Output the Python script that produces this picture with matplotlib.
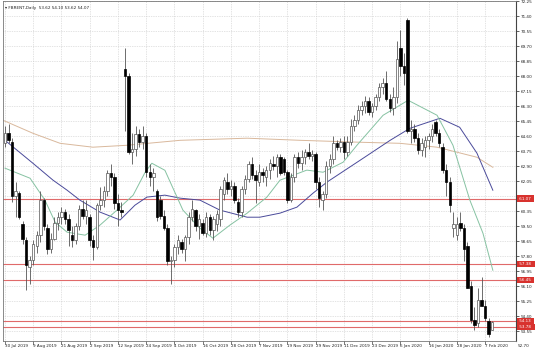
import numpy as np
import matplotlib as mpl
mpl.use('Agg')
import matplotlib.pyplot as plt

### data ###
date_labels = ["30 Jul 2019", "9 Aug 2019", "21 Aug 2019", "2 Sep 2019", "12 Sep 2019", "24 Sep 2019",
               "4 Oct 2019", "16 Oct 2019", "28 Oct 2019", "7 Nov 2019", "19 Nov 2019", "29 Nov 2019",
               "11 Dec 2019", "23 Dec 2019", "6 Jan 2020", "16 Jan 2020", "28 Jan 2020", "7 Feb 2020"]
label_every = 8   # one date label every 8 bars

opens = [64.2, 64.8, 64.3, 61.2, 61.4, 59.6, 58.7, 57.2, 57.6, 58.4,
         59.0, 61.0, 59.4, 58.2, 58.8, 59.7, 60.0, 60.3, 59.9, 59.0,
         58.7, 59.5, 60.5, 60.1, 60.0, 58.7, 58.3, 60.7, 61.0, 61.5,
         62.5, 62.3, 60.8, 60.4, 68.4, 68.0, 63.7, 63.9, 64.7, 64.3,
         64.6, 62.6, 62.3, 61.5, 61.0, 60.1, 59.4, 57.5, 57.6, 58.3,
         58.6, 58.2, 58.9, 60.0, 60.4, 59.5, 59.7, 59.1, 60.0, 59.3,
         59.6, 59.9, 61.3, 62.0, 61.6, 61.8, 60.9, 60.3, 61.6, 62.2,
         63.0, 62.4, 62.0, 62.6, 62.3, 62.7, 63.0, 62.9, 63.4, 63.3,
         62.6, 61.0, 62.3, 63.4, 63.1, 63.4, 63.7, 63.5, 63.6, 62.0,
         61.0, 61.3, 62.9, 63.3, 64.2, 64.0, 64.3, 63.7, 64.3, 65.2,
         65.5, 66.1, 66.3, 66.6, 66.0, 66.3, 66.8, 67.4, 67.6, 66.7,
         66.2, 66.8, 69.6, 68.6, 71.2, 64.9, 65.0, 64.5, 63.8, 64.0,
         64.4, 64.6, 65.4, 64.8, 64.0, 62.7, 62.0, 59.4, 59.0, 59.7,
         59.4, 58.4, 56.1, 54.2, 54.0, 55.3, 55.0, 54.1, 53.62]
highs = [65.2, 65.3, 64.5, 62.0, 61.5, 59.8, 58.9, 57.8, 58.7, 59.2,
         61.5, 61.1, 59.6, 59.1, 60.0, 60.3, 60.6, 60.5, 60.2, 59.5,
         59.7, 60.7, 61.0, 61.0, 60.2, 59.0, 60.8, 61.7, 61.8, 62.7,
         63.0, 62.5, 61.3, 60.9, 69.6, 68.2, 64.8, 65.2, 65.0, 65.2,
         64.8, 63.0, 62.8, 61.6, 61.2, 60.4, 59.6, 57.8, 58.5, 59.0,
         58.8, 59.0, 60.3, 61.0, 60.5, 60.2, 59.9, 60.3, 60.2, 60.1,
         60.4, 61.8, 62.3, 62.5, 62.1, 62.0, 61.1, 61.8, 62.4, 63.2,
         63.4, 62.7, 63.0, 62.8, 62.9, 63.3, 63.5, 63.6, 63.6, 63.4,
         62.7, 62.5, 63.6, 63.7, 63.8, 63.9, 64.2, 63.8, 63.7, 62.3,
         61.5, 63.2, 63.6, 64.6, 64.4, 64.5, 64.6, 64.6, 65.6, 65.8,
         66.4, 66.6, 66.9, 66.8, 66.5, 67.0, 67.6, 67.9, 68.3, 67.0,
         67.4, 70.0, 70.6, 69.3, 71.3, 65.5, 65.3, 64.8, 64.5, 64.6,
         64.8, 65.3, 65.5, 65.0, 64.2, 63.0, 62.3, 60.3, 60.0, 60.3,
         59.6, 58.6, 56.4, 54.9, 56.0, 56.6, 55.3, 54.3, 54.10]
lows = [64.0, 64.2, 60.9, 60.0, 59.9, 58.5, 55.9, 56.2, 57.3, 58.0,
        58.6, 59.3, 57.9, 58.0, 58.7, 59.3, 59.6, 59.6, 58.4, 58.3,
        58.5, 59.3, 59.9, 59.6, 58.4, 57.6, 58.2, 60.4, 60.6, 61.2,
        61.8, 60.5, 59.5, 60.0, 64.9, 63.6, 63.0, 63.5, 64.0, 63.9,
        62.3, 61.8, 61.5, 59.8, 59.9, 59.3, 57.3, 56.2, 57.2, 57.9,
        58.0, 57.5, 58.5, 59.8, 59.2, 58.8, 59.0, 58.9, 59.0, 58.7,
        59.2, 59.5, 61.0, 61.3, 61.2, 60.8, 60.0, 60.0, 61.3, 62.0,
        62.2, 60.8, 61.8, 62.0, 61.8, 62.2, 62.7, 62.3, 62.4, 62.4,
        60.8, 60.9, 62.0, 62.8, 62.7, 63.0, 63.3, 63.2, 61.6, 60.6,
        60.4, 61.1, 62.5, 63.0, 63.8, 63.7, 63.3, 63.5, 64.1, 64.9,
        65.3, 65.8, 65.9, 65.8, 65.7, 66.1, 66.6, 67.0, 66.6, 66.0,
        65.8, 66.5, 68.0, 67.5, 64.8, 64.2, 64.3, 63.6, 63.5, 63.4,
        63.9, 64.3, 64.6, 64.0, 62.5, 61.2, 60.3, 58.9, 58.7, 59.2,
        57.5, 56.0, 54.0, 53.6, 53.8, 55.0, 54.1, 53.2, 53.62]
closes = [64.8, 64.4, 61.2, 61.5, 60.0, 58.8, 57.3, 57.6, 58.5, 59.0,
          61.0, 59.5, 58.2, 58.8, 59.7, 60.0, 60.3, 59.9, 59.3, 58.7,
          59.5, 60.5, 60.1, 60.4, 58.7, 58.3, 60.7, 61.0, 61.5, 62.5,
          62.3, 60.8, 60.4, 60.3, 68.0, 63.7, 63.9, 64.7, 64.3, 64.6,
          62.6, 62.3, 62.5, 60.0, 60.1, 59.4, 57.5, 57.6, 58.3, 58.7,
          58.2, 58.9, 60.0, 60.5, 59.5, 59.9, 59.1, 60.0, 59.3, 59.9,
          60.2, 61.6, 62.1, 61.6, 61.8, 61.0, 60.3, 61.6, 62.2, 63.0,
          62.4, 62.1, 62.6, 62.4, 62.7, 63.1, 62.9, 63.4, 62.5, 62.6,
          61.0, 62.3, 63.4, 63.1, 63.4, 63.7, 63.5, 63.6, 62.0, 61.1,
          61.3, 62.9, 63.3, 64.2, 64.0, 64.3, 63.7, 64.3, 65.2, 65.5,
          66.1, 66.3, 66.6, 66.0, 66.3, 66.8, 67.4, 67.6, 66.7, 66.2,
          66.8, 69.0, 68.6, 68.2, 64.9, 65.0, 64.5, 63.8, 64.2, 64.4,
          64.6, 65.0, 64.8, 64.2, 62.7, 62.0, 60.7, 59.6, 59.6, 59.4,
          58.2, 56.0, 54.2, 53.9, 55.3, 55.0, 54.3, 53.4, 54.07]

# moving averages, read at a few bars
ma_fast_x = [0, 7.1, 11.3, 14.2, 17.6, 22.7, 26.9, 31.7, 36.3, 39.7, 41.6, 45.3, 50.4, 55.2, 58.9,
             63.7, 68.6, 74.2, 77.9, 85.5, 90.1, 95.8, 99.7, 107.1, 114.2, 122.4, 126.9, 131.7, 135.4, 138.2]
ma_fast_y = [62.79, 62.22, 60.98, 59.73, 59.16, 58.99, 59.56, 60.41, 61.26, 62.56, 63.07, 62.67, 60.41, 59.39, 58.82,
             59.56, 60.24, 61.15, 62.11, 62.68, 62.56, 63.13, 64.09, 65.79, 66.64, 65.79, 64.09, 60.97, 59.10, 57.00]
ma_mid_x = [0, 7.9, 13.6, 17.6, 21.2, 26.9, 32.6, 36.8, 40.2, 45.3, 49.6, 55.2, 60.9, 68.6, 72.2,
            77.9, 82.7, 87.3, 91.2, 100.6, 109.1, 114.7, 123.2, 128.8, 133.7, 138.2]
ma_mid_y = [64.37, 63.07, 62.11, 61.54, 60.98, 60.30, 59.85, 60.69, 61.15, 61.26, 61.09, 60.98, 60.41, 60.01, 60.01,
            60.24, 60.58, 61.38, 62.00, 63.24, 64.37, 65.05, 65.62, 65.11, 63.64, 61.54]
ma_slow_x = [-0.6, 7.9, 15.6, 24.9, 34.6, 49.6, 68.6, 83.6, 100.6, 111.9, 122.4, 133.7, 138.2]
ma_slow_y = [65.51, 64.77, 64.20, 63.98, 64.09, 64.37, 64.49, 64.37, 64.26, 64.20, 63.98, 63.41, 62.84]

levels = [61.07, 57.38, 56.45, 54.13, 53.78]    # red horizontal lines

price_ticks = [72.25, 71.40, 70.55, 69.70, 68.85, 68.00, 67.15, 66.30, 65.45, 64.60, 63.75, 62.90,
               62.05, 61.20, 60.35, 59.50, 58.65, 57.80, 56.95, 56.10, 55.25, 54.40, 53.55]
hidden_tick = 61.20     # covered by the 61.07 label
bottom_tick = 52.70

title = "FBRENT,Daily  53.62 54.10 53.62 54.07"

### figure ###
fs = 3.0
fig = plt.figure(figsize=(5.36, 3.58), dpi=100)
ax = fig.add_axes([3/536, 1-341/358, 513/536, 340/358])
ax.set_xlim(-0.57, 144.76)
ax.set_ylim(52.99, 72.27)

n = len(closes)
xs = np.arange(n)

# grid
for k in range(0, n, label_every):
    ax.axvline(k, color='#c8c8c8', lw=0.5, ls=(0, (1, 1.5)), zorder=0)
for p in price_ticks:
    ax.axhline(p, color='#c8c8c8', lw=0.5, ls=(0, (1, 1.5)), zorder=0)

# red levels
for lv in levels:
    ax.axhline(lv, color='#e06a6a', lw=0.8, zorder=1)

# moving averages
ax.plot(ma_slow_x, ma_slow_y, color='#d9b89c', lw=0.7, zorder=2)
ax.plot(ma_mid_x, ma_mid_y, color='#4a4a9a', lw=0.7, zorder=2)
ax.plot(ma_fast_x, ma_fast_y, color='#86c2a2', lw=0.7, zorder=2)

# candles
o = np.array(opens); c = np.array(closes); h = np.array(highs); l = np.array(lows)
up = c >= o
ax.vlines(xs, l, h, color='#555555', lw=0.6, zorder=3)
body_lo = np.minimum(o, c)
body_h = np.maximum(np.abs(c - o), 0.04)
ax.bar(xs[up], body_h[up], bottom=body_lo[up], width=0.7, color='white', edgecolor='#555555', lw=0.5, zorder=4)
ax.bar(xs[~up], body_h[~up], bottom=body_lo[~up], width=0.7, color='black', edgecolor='black', lw=0.5, zorder=4)

# axes look
for s in ['left', 'top', 'bottom']:
    ax.spines[s].set_color('#777777')
    ax.spines[s].set_linewidth(0.6)
ax.spines['right'].set_color('#444444')
ax.spines['right'].set_linewidth(0.8)
ax.yaxis.tick_right()
ax.set_yticks(price_ticks)
ax.set_yticklabels(['' if p == hidden_tick else '%.2f' % p for p in price_ticks])
ax.tick_params(axis='y', length=2, width=0.5, pad=1.5, labelsize=fs, colors='#222222')
ax.set_xticks([])
ax.text(1.003, 52.70, '%.2f' % bottom_tick, transform=ax.get_yaxis_transform(), fontsize=fs,
        va='center', ha='left', color='#222222', clip_on=False)

for lv in levels:
    ax.text(1.004, lv, ' %.2f  ' % lv, transform=ax.get_yaxis_transform(), fontsize=fs,
            va='center', ha='left', color='white', clip_on=False, zorder=10,
            bbox=dict(boxstyle='square,pad=0.25', fc='#d8322e', ec='none'))

# date labels
for j, lab in enumerate(date_labels):
    k = j * label_every
    ax.annotate(lab, xy=(k, 0), xycoords=('data', 'axes fraction'), xytext=(0, -3.5),
                textcoords='offset points', fontsize=fs, ha='left', va='center', color='#222222',
                annotation_clip=False)
    ax.plot([k, k], [0, -0.008], transform=ax.get_xaxis_transform(), color='#444444', lw=0.5, clip_on=False)

# title
ax.text(0.004, 0.985, u'\u25be ' + title, transform=ax.transAxes, fontsize=fs, va='top', ha='left', color='#222222')

fig.savefig('out.png', dpi=100)
